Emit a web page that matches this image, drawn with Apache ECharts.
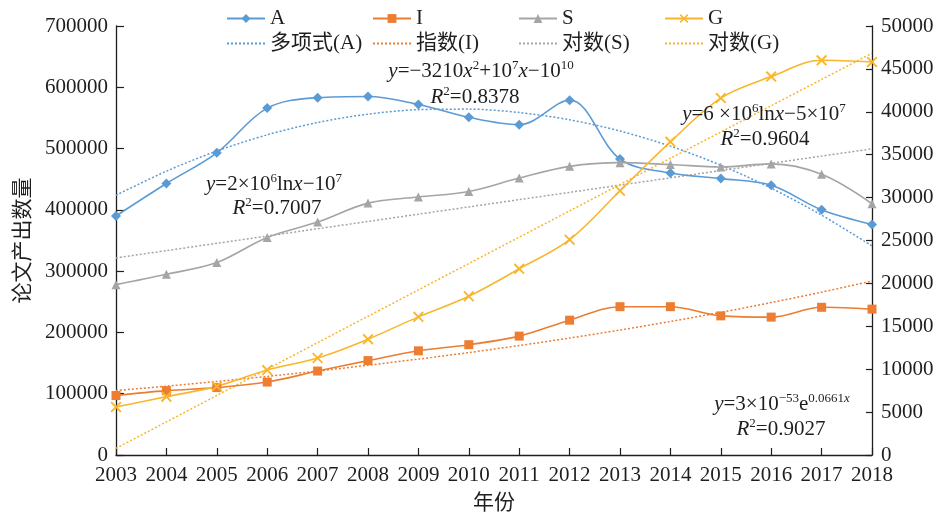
<!DOCTYPE html>
<html>
<head>
<meta charset="utf-8">
<script src="https://cdn.jsdelivr.net/npm/echarts@6/dist/echarts.min.js"></script>
<style>
  html, body { margin: 0; padding: 0; background: #fff; }
  #chart { width: 938px; height: 519px; }
</style>
</head>
<body>
<div id="chart"></div>
<script>
// Annual paper output, 2003-2018
const years = ['2003', '2004', '2005', '2006', '2007', '2008', '2009', '2010',
               '2011', '2012', '2013', '2014', '2015', '2016', '2017', '2018'];
const seriesA = [390000, 443000, 493000, 566000, 583000, 585000, 572000, 551000,
                 539000, 579000, 483000, 460000, 451000, 440000, 400000, 376000];
const seriesI = [97000, 105000, 110000, 119000, 137000, 154000, 170000, 180000,
                 194000, 220000, 242000, 242000, 227000, 225000, 241000, 238000];
const seriesS = [278000, 295000, 314000, 355000, 380000, 411000, 421000, 430000,
                 452000, 471000, 477000, 474000, 470000, 475000, 458000, 410000];
// G is plotted against the secondary (right) axis
const seriesG = [5600, 6800, 8000, 9900, 11300, 13500, 16100, 18500,
                 21700, 25100, 30800, 36500, 41600, 44100, 46000, 45800];

const leftTicks = { min: 0, max: 700000, step: 100000 };
const rightTicks = { min: 0, max: 50000, step: 5000 };

const dataNames = ['A', 'I', 'S', 'G'];
const trendNames = ['多项式(A)', '指数(I)', '对数(S)', '对数(G)'];

const FONT = '"Liberation Serif", "Times New Roman", "Noto Sans CJK SC", serif';
const INK = '#1e1e1e';
const COL = { A: '#5B9BD5', I: '#ED7D31', S: '#A5A5A5', G: '#F9B62C' };

// ---- least-squares trend lines ----
function linFit(xs, ys) {
  const n = xs.length;
  let mx = 0, my = 0;
  for (let i = 0; i < n; i++) { mx += xs[i]; my += ys[i]; }
  mx /= n; my /= n;
  let sxy = 0, sxx = 0;
  for (let i = 0; i < n; i++) { sxy += (xs[i] - mx) * (ys[i] - my); sxx += (xs[i] - mx) ** 2; }
  const a = sxy / sxx;
  return { a, b: my - a * mx };
}
function polyFit2(xs, ys) {
  // normal equations for y = c0 + c1 x + c2 x^2
  const s = [0, 0, 0, 0, 0], t = [0, 0, 0];
  for (let i = 0; i < xs.length; i++) {
    let p = 1;
    for (let k = 0; k < 5; k++) { s[k] += p; if (k < 3) t[k] += ys[i] * p; p *= xs[i]; }
  }
  const M = [[s[0], s[1], s[2], t[0]], [s[1], s[2], s[3], t[1]], [s[2], s[3], s[4], t[2]]];
  for (let c = 0; c < 3; c++) {
    for (let r = c + 1; r < 3; r++) {
      const f = M[r][c] / M[c][c];
      for (let k = c; k < 4; k++) M[r][k] -= f * M[c][k];
    }
  }
  const x = [0, 0, 0];
  for (let r = 2; r >= 0; r--) {
    let v = M[r][3];
    for (let k = r + 1; k < 3; k++) v -= M[r][k] * x[k];
    x[r] = v / M[r][r];
  }
  return x;
}
const idx = years.map((_, i) => i);
const yr = years.map(Number);

const pA = polyFit2(idx, seriesA);
const trendA = idx.map(i => pA[0] + pA[1] * i + pA[2] * i * i);

const eI = linFit(idx, seriesI.map(v => Math.log(v)));
const trendI = idx.map(i => Math.exp(eI.b + eI.a * i));

const lS = linFit(yr.map(v => Math.log(v)), seriesS);
const trendS = yr.map(v => lS.a * Math.log(v) + lS.b);

const lG = linFit(yr.map(v => Math.log(v)), seriesG);
const trendG = yr.map(v => lG.a * Math.log(v) + lG.b);

const crossPath = 'path://M0,1.2L1.2,0L10,8.8L8.8,10ZM8.8,0L10,1.2L1.2,10L0,8.8Z';

function dataLine(name, data, color, symbol, size, yAxisIndex) {
  return {
    name, type: 'line', data, yAxisIndex,
    smooth: 0.35,
    symbol, symbolSize: size,
    lineStyle: { color, width: 1.6 },
    itemStyle: { color, borderWidth: 0 },
    z: 3
  };
}
function trendLine(name, data, color, yAxisIndex) {
  return {
    name, type: 'line', data, yAxisIndex,
    smooth: 0.3,
    symbol: 'none',
    lineStyle: { color, width: 1.5, type: [2, 2] },
    itemStyle: { color },
    silent: true,
    z: 2
  };
}

const sup = { fontSize: 13, fontFamily: FONT, color: INK, padding: [0, 0, 11, 0] };
const rich = {
  i: { fontSize: 21, fontFamily: FONT, fontStyle: 'italic', color: INK },
  n: { fontSize: 21, fontFamily: FONT, color: INK },
  s: sup,
  si: Object.assign({}, sup, { fontStyle: 'italic' })
};
function eq(x, y, text) {
  return {
    type: 'text', x, y, z: 10,
    style: {
      text, rich,
      font: '21px ' + FONT, fill: INK,
      align: 'center', verticalAlign: 'middle',
      textAlign: 'center', textVerticalAlign: 'middle'
    }
  };
}

// one legend per entry so that the columns line up
const legendCols = [221, 367, 513, 659];
function legendItem(name, col, top, isTrend) {
  const l = {
    data: [name], left: legendCols[col], top,
    itemWidth: 38, itemHeight: 11, itemGap: 0,
    textStyle: { fontSize: 21, fontFamily: FONT, color: INK },
    selectedMode: false
  };
  if (isTrend) l.itemStyle = { opacity: 0 };
  return l;
}
const legends = dataNames.map((n, i) => legendItem(n, i, 3, false))
  .concat(trendNames.map((n, i) => legendItem(n, i, 28, true)));

const plain = v => String(v);

const chart = echarts.init(document.getElementById('chart'), null, { renderer: 'canvas' });
chart.setOption({
  backgroundColor: '#fff',
  animation: false,
  legend: legends,
  grid: { left: 116, right: 66, top: 26, bottom: 59 },
  xAxis: {
    type: 'category', data: years, boundaryGap: false,
    axisLine: { lineStyle: { color: INK, width: 1.3 } },
    axisTick: { inside: true, length: 7, lineStyle: { color: INK, width: 1.2 } },
    axisLabel: { fontSize: 21, fontFamily: FONT, color: INK, margin: 10, interval: 0 },
    name: '年份', nameLocation: 'middle', nameGap: 38,
    nameTextStyle: { fontSize: 21, fontFamily: FONT, color: INK }
  },
  yAxis: [
    {
      type: 'value', min: leftTicks.min, max: leftTicks.max, interval: leftTicks.step,
      axisLine: { show: true, lineStyle: { color: INK, width: 1.3 } },
      axisTick: { show: true, inside: true, length: 8, lineStyle: { color: INK, width: 1.2 } },
      axisLabel: { fontSize: 21, fontFamily: FONT, color: INK, margin: 8, formatter: plain },
      splitLine: { show: false },
      name: '论文产出数量', nameLocation: 'middle', nameGap: 81, nameRotate: 90,
      nameTextStyle: { fontSize: 21, fontFamily: FONT, color: INK }
    },
    {
      type: 'value', position: 'right',
      min: rightTicks.min, max: rightTicks.max, interval: rightTicks.step,
      axisLine: { show: true, lineStyle: { color: INK, width: 1.3 } },
      axisTick: { show: true, inside: true, length: 6, lineStyle: { color: INK, width: 1.2 } },
      axisLabel: { fontSize: 21, fontFamily: FONT, color: INK, margin: 9, formatter: plain },
      splitLine: { show: false }
    }
  ],
  series: [
    dataLine('A', seriesA, COL.A, 'diamond', 10, 0),
    dataLine('I', seriesI, COL.I, 'rect', 9, 0),
    dataLine('S', seriesS, COL.S, 'triangle', 9, 0),
    dataLine('G', seriesG, COL.G, crossPath, 11, 1),
    trendLine(trendNames[0], trendA, COL.A, 0),
    trendLine(trendNames[1], trendI, COL.I, 0),
    trendLine(trendNames[2], trendS, COL.S, 0),
    trendLine(trendNames[3], trendG, COL.G, 1)
  ],
  graphic: [
    eq(481, 71, '{i|y}{n|=−3210}{i|x}{s|2}{n|+10}{s|7}{i|x}{n|−10}{s|10}'),
    eq(475, 97, '{i|R}{s|2}{n|=0.8378}'),
    eq(274, 184, '{i|y}{n|=2×10}{s|6}{n|ln}{i|x}{n|−10}{s|7}'),
    eq(277, 208, '{i|R}{s|2}{n|=0.7007}'),
    eq(764, 114, '{i|y}{n|=6 ×10}{s|6}{n|ln}{i|x}{n|−5×10}{s|7}'),
    eq(765, 139, '{i|R}{s|2}{n|=0.9604}'),
    eq(782, 404, '{i|y}{n|=3×10}{s|−53}{n|e}{s|0.0661}{si|x}'),
    eq(781, 429, '{i|R}{s|2}{n|=0.9027}')
  ]
});
</script>
</body>
</html>
